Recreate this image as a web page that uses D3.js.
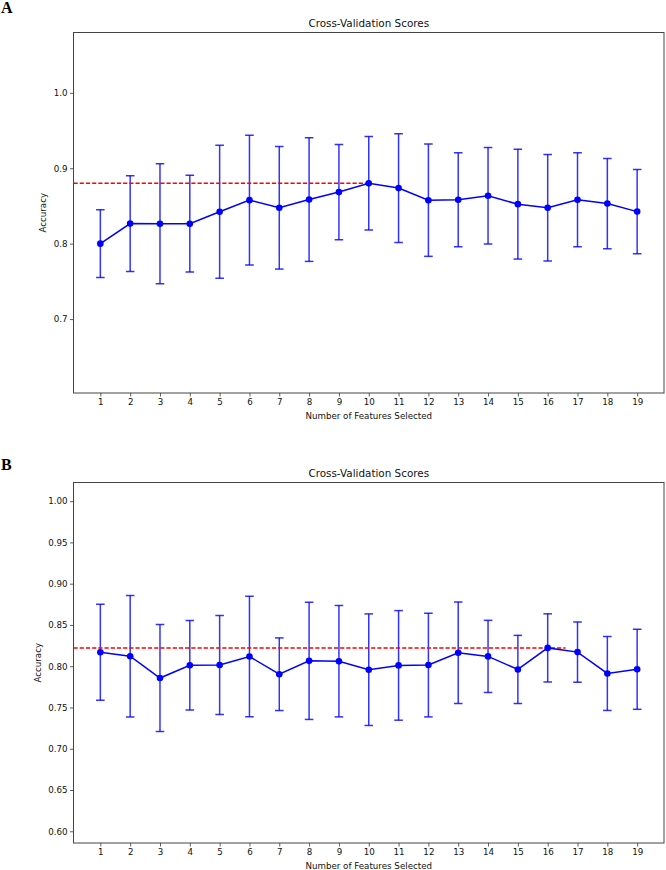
<!DOCTYPE html>
<html>
<head>
<meta charset="utf-8">
<script src="https://cdn.jsdelivr.net/npm/d3@7"></script>
<style>
  html, body { margin: 0; padding: 0; background: #fff; }
  svg { display: block; }
  text { font-family: "DejaVu Sans", sans-serif; fill: #111; }
</style>
</head>
<body>
<script>
// ---- data ----
const features = [1, 2, 3, 4, 5, 6, 7, 8, 9, 10, 11, 12, 13, 14, 15, 16, 17, 18, 19];

const meanA = [0.800, 0.8266, 0.8265, 0.8265, 0.8424, 0.8577, 0.8476, 0.8585, 0.8684, 0.880,
               0.8737, 0.8576, 0.8582, 0.8635, 0.8524, 0.8476, 0.8582, 0.8532, 0.8425];
const stdA  = [0.045, 0.0634, 0.0795, 0.0642, 0.0881, 0.0861, 0.0813, 0.082, 0.0631, 0.062,
               0.072, 0.0744, 0.0622, 0.064, 0.0728, 0.0706, 0.0622, 0.0598, 0.0558];

const meanB = [0.8169, 0.8121, 0.7857, 0.8012, 0.8014, 0.8117, 0.7903, 0.8065, 0.8061, 0.7958,
               0.8010, 0.8014, 0.8163, 0.8119, 0.7961, 0.8222, 0.8171, 0.7912, 0.7963];
const stdB  = [0.0581, 0.0735, 0.0648, 0.0541, 0.060, 0.073, 0.044, 0.071, 0.0675, 0.0676,
               0.0664, 0.0628, 0.0615, 0.0437, 0.0413, 0.0413, 0.0365, 0.0448, 0.0485];

const bestEndA = 10;     // x where the red best-score line stops
const bestEndB = 16.6;

const yTicksA = [0.7, 0.8, 0.9, 1.0];
const yTickLabelsA = ["0.7", "0.8", "0.9", "1.0"];
const yTicksB = [0.60, 0.65, 0.70, 0.75, 0.80, 0.85, 0.90, 0.95, 1.00];
const yTickLabelsB = ["0.60", "0.65", "0.70", "0.75", "0.80", "0.85", "0.90", "0.95", "1.00"];

const panelLetters = ["A", "B"];
const titleText = "Cross-Validation Scores";
const xLabelText = "Number of Features Selected";
const yLabelText = "Accuracy";

// ---- drawing ----
const W = 666, H = 870;
const svg = d3.select("body").append("svg").attr("width", W).attr("height", H);

const panels = [
  { letter: panelLetters[0], mean: meanA, std: stdA, bestEnd: bestEndA,
    yTicks: yTicksA, yLabels: yTickLabelsA, yDomain: [0.602, 1.08],
    top: 32.5, bottom: 393, letterY: 13, yLabelX: 43 },
  { letter: panelLetters[1], mean: meanB, std: stdB, bestEnd: bestEndB,
    yTicks: yTicksB, yLabels: yTickLabelsB, yDomain: [0.5858, 1.0226],
    top: 482.5, bottom: 843, letterY: 470, yLabelX: 38 }
];

const left = 73.5, right = 664;
const x = d3.scaleLinear().domain([0.1, 19.9]).range([left, right]);

panels.forEach((p, pi) => {
  const g = svg.append("g");
  const y = d3.scaleLinear().domain(p.yDomain).range([p.bottom, p.top]);

  // panel letter
  svg.append("text").attr("x", 1).attr("y", p.letterY)
    .style("font-family", "'Liberation Serif', 'Times New Roman', serif")
    .style("font-weight", "bold").style("font-size", "16px").style("fill", "#000")
    .text(p.letter);

  // title
  g.append("text").attr("x", (left + right) / 2).attr("y", p.top - 6)
    .attr("text-anchor", "middle").style("font-size", "10.4px").text(titleText);

  const clipId = "clip" + pi;
  svg.append("clipPath").attr("id", clipId).append("rect")
    .attr("x", left).attr("y", p.top).attr("width", right - left).attr("height", p.bottom - p.top);

  const plot = g.append("g").attr("clip-path", `url(#${clipId})`);
  const blue = "#0000ff";
  const idx = d3.range(features.length);

  // error bars
  plot.selectAll("line.err").data(idx).join("line").attr("class", "err")
    .attr("x1", i => x(features[i])).attr("x2", i => x(features[i]))
    .attr("y1", i => y(p.mean[i] - p.std[i])).attr("y2", i => y(p.mean[i] + p.std[i]))
    .attr("stroke", blue).attr("stroke-opacity", 0.8).attr("stroke-width", 1.5);
  [-1, 1].forEach(s => {
    plot.selectAll("line.cap" + (s > 0 ? "u" : "d")).data(idx).join("line")
      .attr("class", "cap" + (s > 0 ? "u" : "d"))
      .attr("x1", i => x(features[i]) - 4.3).attr("x2", i => x(features[i]) + 4.3)
      .attr("y1", i => y(p.mean[i] + s * p.std[i])).attr("y2", i => y(p.mean[i] + s * p.std[i]))
      .attr("stroke", blue).attr("stroke-opacity", 0.8).attr("stroke-width", 1.5);
  });

  // best score dashed line
  const best = d3.max(p.mean);
  plot.append("line")
    .attr("x1", left).attr("x2", x(p.bestEnd))
    .attr("y1", y(best)).attr("y2", y(best))
    .attr("stroke", "#ff0000").attr("stroke-width", 1.5).attr("stroke-dasharray", "4.2,2");

  // mean line
  const line = d3.line().x(i => x(features[i])).y(i => y(p.mean[i]));
  plot.append("path").datum(idx).attr("d", line)
    .attr("fill", "none").attr("stroke", blue).attr("stroke-width", 1.5);

  // markers
  plot.selectAll("circle").data(idx).join("circle")
    .attr("cx", i => x(features[i])).attr("cy", i => y(p.mean[i])).attr("r", 3.3)
    .attr("fill", blue);

  // axes
  const xAxis = d3.axisBottom(x).tickValues(features).tickSize(3.5).tickPadding(2.5)
    .tickFormat(d3.format("d"));
  const gx = g.append("g").attr("transform", `translate(0,${p.bottom})`).call(xAxis);
  const yAxis = d3.axisLeft(y).tickValues(p.yTicks).tickSize(3.5).tickPadding(2.5)
    .tickFormat((d, i) => p.yLabels[i]);
  const gy = g.append("g").attr("transform", `translate(${left},0)`).call(yAxis);
  [gx, gy].forEach(a => {
    a.select(".domain").remove();
    a.selectAll(".tick line").attr("stroke", "#333").attr("stroke-width", 0.8);
    a.selectAll(".tick text").style("font-size", "8.7px").style("font-family", "'DejaVu Sans', sans-serif")
      .attr("fill", "#111");
  });

  // frame
  g.append("rect").attr("x", left).attr("y", p.top)
    .attr("width", right - left).attr("height", p.bottom - p.top)
    .attr("fill", "none").attr("stroke", "#444").attr("stroke-width", 1);

  // axis labels
  g.append("text").attr("x", (left + right) / 2).attr("y", p.bottom + 26)
    .attr("text-anchor", "middle").style("font-size", "8.7px").text(xLabelText);
  g.append("text").attr("transform", `translate(${p.yLabelX},${(p.top + p.bottom) / 2}) rotate(-90)`)
    .attr("text-anchor", "middle").attr("dominant-baseline", "central")
    .style("font-size", "8.7px").text(yLabelText);
});
</script>
</body>
</html>
